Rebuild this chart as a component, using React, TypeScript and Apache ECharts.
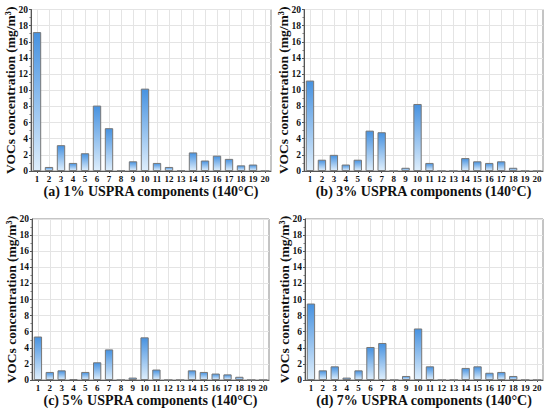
import React, { useEffect, useRef } from "react";
import * as echarts from "echarts";

const categories = ["1","2","3","4","5","6","7","8","9","10","11","12","13","14","15","16","17","18","19","20"];
const seriesA = [17.2, 0.5, 3.2, 1.0, 2.2, 8.1, 5.3, 0.05, 1.2, 10.2, 1.0, 0.5, 0.05, 2.3, 1.3, 1.9, 1.5, 0.7, 0.8, 0];
const seriesB = [11.2, 1.4, 2.0, 0.8, 1.4, 5.0, 4.8, 0, 0.4, 8.3, 1.0, 0, 0, 1.6, 1.2, 1.0, 1.2, 0.4, 0, 0];
const seriesC = [5.4, 1.0, 1.2, 0.1, 1.0, 2.2, 3.8, 0, 0.3, 5.3, 1.3, 0, 0, 1.2, 1.0, 0.8, 0.7, 0.4, 0, 0];
const seriesD = [9.5, 1.2, 1.7, 0.3, 1.2, 4.1, 4.6, 0, 0.5, 6.4, 1.7, 0, 0, 1.5, 1.7, 0.9, 1.0, 0.5, 0, 0];
const panelTitles = [
  "(a) 1% USPRA components (140°C)",
  "(b) 3% USPRA components (140°C)",
  "(c) 5% USPRA components (140°C)",
  "(d) 7% USPRA components (140°C)",
];
const yTitle = "VOCs concentration (mg/m³)";

const FONT = "Liberation Serif";

export default function App() {
  const ref = useRef<HTMLDivElement>(null);
  useEffect(() => {
    if (!ref.current) return;
    const chart = echarts.init(ref.current, null, { renderer: "svg" });
    const grids = [
      { left: 31, top: 9.5, width: 240, height: 161.5 },
      { left: 304, top: 9.5, width: 239, height: 161.5 },
      { left: 32, top: 219, width: 237, height: 161 },
      { left: 305, top: 219, width: 238, height: 161 },
    ];
    const data = [seriesA, seriesB, seriesC, seriesD];
    const option: any = {
      animation: false,
      backgroundColor: "#ffffff",
      grid: grids.map((g) => ({ ...g, show: true, borderColor: "#8a8a8a", borderWidth: 1, backgroundColor: "transparent" })),
      xAxis: grids.map((_, i) => ({
        type: "category",
        gridIndex: i,
        data: categories,
        boundaryGap: true,
        name: panelTitles[i],
        nameLocation: "middle",
        nameGap: 13,
        nameMoveOverlap: false,
        nameTextStyle: { fontFamily: FONT, fontWeight: "bold", fontSize: 14, color: "#111" },
        axisLine: { show: true, lineStyle: { color: "#555", width: 1 } },
        axisTick: { show: true, alignWithLabel: true, length: 2, lineStyle: { color: "#555" } },
        axisLabel: { interval: 0, margin: 3, fontFamily: FONT, fontWeight: "bold", fontSize: 9, color: "#111" },
        splitLine: { show: false },
      })),
      yAxis: grids.map((_, i) => ({
        type: "value",
        gridIndex: i,
        min: 0,
        max: 20,
        interval: 2,
        name: yTitle,
        nameLocation: "middle",
        nameGap: 13.5,
        nameMoveOverlap: false,
        nameRotate: 90,
        nameTextStyle: { fontFamily: FONT, fontWeight: "bold", fontSize: 13.5, color: "#111" },
        axisLine: { show: true, lineStyle: { color: "#555", width: 1 } },
        axisTick: { show: true, length: 2, lineStyle: { color: "#555" } },
        minorTick: { show: true, splitNumber: 2, length: 1.5, lineStyle: { color: "#777" } },
        axisLabel: { margin: 3, fontFamily: FONT, fontWeight: "bold", fontSize: 9.5, color: "#111" },
        splitLine: { show: true, lineStyle: { color: "#e4e4e4", width: 1 } },
      })),
      series: data.map((d, i) => ({
        type: "bar",
        xAxisIndex: i,
        yAxisIndex: i,
        data: d,
        barCategoryGap: "30%",
        z: 3,
        itemStyle: {
          color: new echarts.graphic.LinearGradient(0, 0, 0, 1, [
            { offset: 0, color: "#4792e0" },
            { offset: 1, color: "#deeefc" },
          ]),
          borderColor: "#777777",
          borderWidth: 1,
        },
        markLine: {
          silent: true,
          symbol: "none",
          z: 1,
          label: { show: false },
          lineStyle: { color: "#e4e4e4", type: "solid", width: 1 },
          data: categories.map((c) => ({ xAxis: c })),
        },
      })),
    };
    chart.setOption(option);
    return () => chart.dispose();
  }, []);
  return (
    <div
      ref={ref}
      style={{ position: "fixed", left: 0, top: 0, width: 550, height: 411, background: "#fff" }}
    />
  );
}
